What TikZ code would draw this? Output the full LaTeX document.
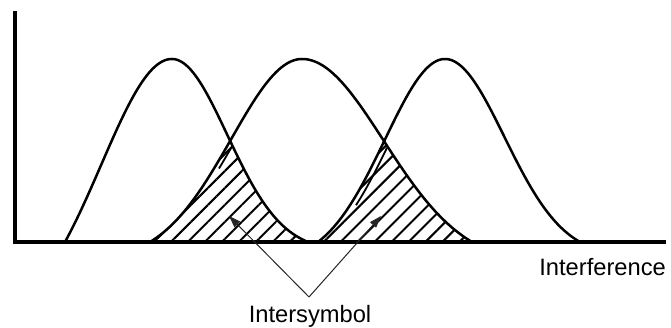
\documentclass[tikz,border=0pt]{standalone}
\usepackage{fontspec}
\setmainfont{Liberation Sans}
\usepackage{tikz}
\usetikzlibrary{arrows.meta,patterns.meta}

% one pulse: centre, left reach, left spread, right reach, right spread
\newcommand{\bell}[5]{%
  plot[domain=-#2:0] ({#1+\x},{86+183*tail(\x,#2,#3)})
  -- plot[domain=0:#4] ({#1+\x},{86+183*tail(\x,#4,#5)})}

\begin{document}
\begin{tikzpicture}[
    x=1pt, y=1pt,
    declare function={tail(\d,\r,\s)=(exp(-((\d/\s)^2))-exp(-((\r/\s)^2)))/(1-exp(-((\r/\s)^2)));},
    axis/.style={line width=3.2pt},
    pulse/.style={line width=2.5pt, samples=60, smooth, line join=round},
    hatch/.style={pattern={Lines[angle=45, distance=12pt, line width=2pt]}},
    edge/.style={line width=1.8pt, samples=20, smooth},
    ptr/.style={-{Triangle[length=12pt, width=8pt]}, line width=1pt, black!85},
    lbl/.style={font=\fontsize{23.7}{28}\selectfont, inner sep=0pt},
  ]
    \useasboundingbox (0,0) rectangle (671,328);

    % hatched overlaps
    \begin{scope}
      \clip \bell{172}{107}{100}{136}{78} -- cycle;
      \fill[hatch] \bell{302}{152}{100}{170}{115} -- cycle;
      \draw[edge, xshift=5pt] plot[domain=-88:-70] ({302+\x},{86+183*tail(\x,152,100)});
    \end{scope}
    \begin{scope}
      \clip \bell{302}{152}{100}{170}{115} -- cycle;
      \fill[hatch] \bell{445}{127}{85}{135}{84} -- cycle;
      \draw[edge, xshift=6pt] plot[domain=-95:-64] ({445+\x},{86+183*tail(\x,127,85)});
    \end{scope}

    % pulses
    \draw[pulse] \bell{172}{107}{100}{136}{78};
    \draw[pulse] \bell{302}{152}{100}{170}{115};
    \draw[pulse] \bell{445}{127}{85}{135}{84};

    % axes
    \coordinate (origin) at (15,86);
    \coordinate (ytop)   at (15,317);
    \coordinate (xend)   at (666,86);
    \draw[axis] (ytop) -- (origin) -- (xend);

    % labels and pointers
    \node[lbl, anchor=east] (itf) at (666,61) {Interference};
    \node[lbl, anchor=base] (isi) at (310,5) {Intersymbol};
    \coordinate (fork) at (309,31);
    \coordinate (tipa) at (229,112);
    \coordinate (tipb) at (381,112);
    \draw[ptr] (fork) -- (tipa);
    \draw[ptr] (fork) -- (tipb);
\end{tikzpicture}
\end{document}
